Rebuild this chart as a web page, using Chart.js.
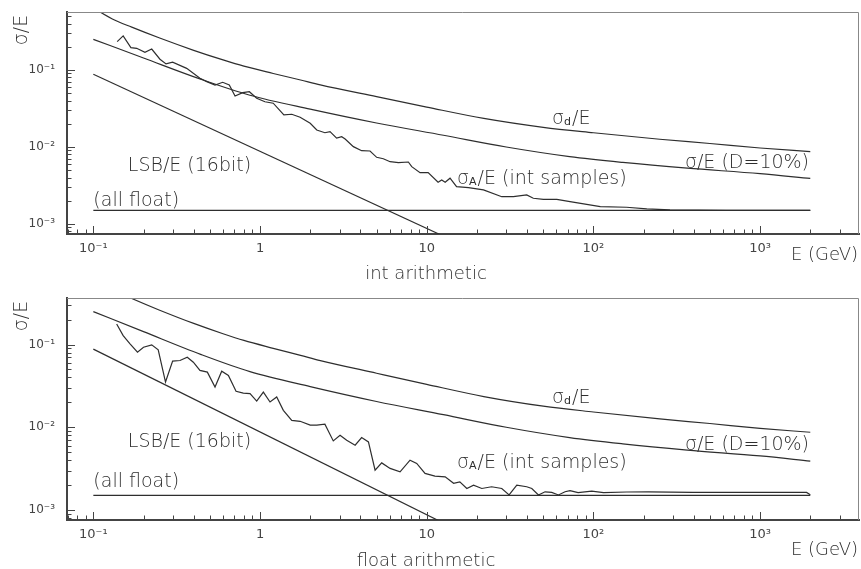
<!DOCTYPE html>
<html>
<head>
<meta charset="utf-8">
<script src="https://cdn.jsdelivr.net/npm/chart.js@4.4.1/dist/chart.umd.min.js"></script>
<style>
  body { margin: 0; background: #fff; }
  canvas { display: block; }
</style>
</head>
<body>
<canvas id="intChart" width="861" height="284"></canvas>
<canvas id="floatChart" width="861" height="285"></canvas>
<script>
// energies in GeV, resolutions as sigma/E
const sigmaDE = [0.1, 0.13, 0.17, 0.25, 0.4, 0.6, 0.8, 1.2, 1.75, 2.3, 5, 10, 22, 50, 100, 250, 500, 1000, 2000];
const sigmaD = [0.64, 0.46, 0.36, 0.26, 0.18, 0.135, 0.112, 0.09, 0.074, 0.064, 0.045, 0.033, 0.0235, 0.018, 0.0153, 0.0126, 0.0111, 0.0097, 0.0087];

const dTenE = [0.1, 0.2, 0.44, 0.87, 2, 5, 12.6, 30, 72, 150, 366, 1000, 2000];
const dTen = [0.25, 0.143, 0.076, 0.047, 0.031, 0.0205, 0.0142, 0.01, 0.0075, 0.0063, 0.0053, 0.0045, 0.0039];

const lsbE = [0.1, 12];
const lsb = [0.088, 0.00073];

const allFloatE = [0.1, 2000];
const allFloat = [0.0015, 0.0015];

// sigma_A/E, int arithmetic
const intSamplesE = [0.139, 0.151, 0.168, 0.182, 0.204, 0.224, 0.251, 0.273, 0.299, 0.363, 0.436, 0.479, 0.537, 0.597, 0.654, 0.708, 0.787, 0.863, 0.955, 1.07, 1.2, 1.39, 1.55, 1.74, 2.0, 2.19, 2.45, 2.63, 2.88, 3.09, 3.24, 3.63, 4.07, 4.57, 5.01, 5.49, 6.03, 6.76, 7.76, 8.13, 9.12, 10.2, 11.7, 12.3, 12.9, 13.8, 15.1, 17.8, 21.9, 28.2, 33.1, 39.8, 43.6, 50.1, 60.3, 72.4, 110, 158, 209, 288, 631, 2000];
const intSamples = [0.233, 0.277, 0.195, 0.191, 0.170, 0.187, 0.138, 0.120, 0.126, 0.105, 0.078, 0.0705, 0.0638, 0.0692, 0.0638, 0.0459, 0.0507, 0.0522, 0.0429, 0.0387, 0.037, 0.0261, 0.0266, 0.0243, 0.0203, 0.0166, 0.0153, 0.0158, 0.013, 0.0136, 0.0127, 0.0101, 0.00895, 0.00887, 0.00734, 0.00704, 0.00644, 0.00625, 0.00638, 0.00555, 0.00464, 0.00464, 0.00348, 0.00373, 0.00348, 0.00393, 0.00305, 0.00296, 0.00277, 0.00226, 0.00226, 0.00238, 0.00216, 0.00209, 0.00209, 0.00195, 0.00168, 0.00165, 0.00157, 0.00152, 0.0015, 0.0015];

// sigma_A/E, float arithmetic
const floatSamplesE = [0.138, 0.151, 0.166, 0.184, 0.2, 0.224, 0.245, 0.271, 0.299, 0.331, 0.366, 0.398, 0.436, 0.483, 0.537, 0.589, 0.646, 0.718, 0.794, 0.871, 0.955, 1.047, 1.148, 1.259, 1.38, 1.55, 1.74, 2.0, 2.19, 2.45, 2.75, 3.02, 3.31, 3.72, 4.07, 4.47, 4.9, 5.37, 6.03, 6.92, 7.94, 8.71, 9.77, 11.2, 12.9, 14.5, 15.8, 17.4, 19.1, 21.4, 24.5, 28.2, 31.2, 34.7, 39.8, 42.7, 46.8, 51.3, 56.2, 61.7, 67.6, 72.4, 80.9, 97.7, 115, 158, 214, 396, 1900, 2000];
const floatSamples = [0.177, 0.128, 0.102, 0.0807, 0.0928, 0.0991, 0.0863, 0.0352, 0.063, 0.0641, 0.0703, 0.0612, 0.0486, 0.0464, 0.0306, 0.0476, 0.0423, 0.0272, 0.0259, 0.0255, 0.0207, 0.0266, 0.0202, 0.0232, 0.016, 0.0121, 0.0118, 0.0106, 0.0106, 0.0109, 0.00684, 0.00802, 0.00697, 0.00607, 0.00751, 0.00665, 0.00303, 0.00371, 0.00318, 0.00289, 0.004, 0.00365, 0.00277, 0.00257, 0.00252, 0.0021, 0.00219, 0.00182, 0.002, 0.00182, 0.00191, 0.00182, 0.00152, 0.002, 0.00191, 0.00182, 0.00152, 0.00166, 0.00163, 0.00152, 0.00166, 0.00171, 0.00162, 0.00169, 0.00162, 0.00165, 0.00166, 0.00163, 0.00163, 0.00153];

const xTicks = [0.1, 1, 10, 100, 1000];
const yTicks = [0.001, 0.01, 0.1];

const FONT = '"DejaVu Sans", sans-serif';
const INK = '#2e2e2e';

const sup = { '-3': '⁻³', '-2': '⁻²', '-1': '⁻¹', '2': '²', '3': '³' };
function powLabel(v) {
    const p = Math.round(Math.log10(v));
    if (p === 0) return '1';
    if (p === 1) return '10';
    return '10' + sup[p];
}

function curve(xs, ys, smooth) {
    return {
        data: xs.map((x, i) => ({ x: x, y: ys[i] })),
        borderColor: INK,
        borderWidth: 1.2,
        pointRadius: 0,
        tension: 0,
        cubicInterpolationMode: smooth ? 'monotone' : 'default',
        capBezierPoints: false
    };
}

function drawParts(ctx, parts, x, y) {
    for (const [t, sub] of parts) {
        ctx.font = sub ? `11px ${FONT}` : `200 19px ${FONT}`;
        ctx.fillText(t, x, sub ? y + 1 : y);
        x += ctx.measureText(t).width + (sub ? 1 : 0);
    }
}

// frame, inward ticks and text
const decor = {
    id: 'decor',
    afterDraw(chart, args, opts) {
        const { ctx, chartArea: a, scales: { x, y } } = chart;
        ctx.save();
        ctx.strokeStyle = '#888';
        ctx.lineWidth = 1;
        ctx.beginPath();
        ctx.moveTo(a.left, a.top + 0.5);
        ctx.lineTo(a.right - 0.5, a.top + 0.5);
        ctx.lineTo(a.right - 0.5, a.bottom);
        ctx.stroke();

        ctx.strokeStyle = '#444';
        ctx.beginPath();
        for (let d = -4; d <= 3; d++) {
            for (let k = 1; k <= 9; k++) {
                const v = k * Math.pow(10, d);
                const len = k === 1 ? 8 : 4.5;
                if (v >= x.min && v <= x.max) {
                    const px = Math.round(x.getPixelForValue(v)) + 0.5;
                    ctx.moveTo(px, a.bottom);
                    ctx.lineTo(px, a.bottom - len);
                }
                if (v >= y.min && v <= y.max) {
                    const py = Math.round(y.getPixelForValue(v)) + 0.5;
                    ctx.moveTo(a.left, py);
                    ctx.lineTo(a.left + len, py);
                }
            }
        }
        ctx.stroke();

        ctx.fillStyle = INK;
        ctx.textBaseline = 'alphabetic';
        ctx.textAlign = 'left';
        for (const item of opts.labels) {
            drawParts(ctx, item.parts, x.getPixelForValue(item.e), y.getPixelForValue(item.v));
        }

        ctx.font = `200 18px ${FONT}`;
        ctx.textAlign = 'center';
        ctx.fillText(opts.xTitle, opts.xTitleX, opts.xTitleY);
        ctx.textAlign = 'right';
        ctx.fillText('E (GeV)', 858, opts.unitY);

        ctx.translate(22, opts.yTitleY);
        ctx.rotate(-Math.PI / 2);
        ctx.textAlign = 'center';
        ctx.textBaseline = 'middle';
        ctx.font = `200 19px ${FONT}`;
        ctx.fillText('σ/E', 0, 0);
        ctx.restore();
    }
};

function panel(id, samplesE, samples, yMin, yMax, padTop, xHeight, opts) {
    return new Chart(document.getElementById(id), {
        type: 'line',
        data: {
            datasets: [
                curve(sigmaDE, sigmaD, true),
                curve(dTenE, dTen, true),
                curve(lsbE, lsb, false),
                curve(allFloatE, allFloat, false),
                curve(samplesE, samples, false)
            ]
        },
        options: {
            responsive: false,
            animation: false,
            devicePixelRatio: 1,
            events: [],
            layout: { padding: { top: padTop, right: 2, left: 0, bottom: 0 } },
            plugins: {
                legend: { display: false },
                tooltip: { enabled: false },
                decor: opts
            },
            scales: {
                x: {
                    type: 'logarithmic',
                    min: 0.0695,
                    max: 3920,
                    afterBuildTicks: s => { s.ticks = xTicks.map(v => ({ value: v })); },
                    afterFit: s => {
                        s.height = xHeight;
                        s.paddingLeft = 0;
                        s.paddingRight = 0;
                    },
                    grid: { display: false, drawTicks: false },
                    border: { display: true, color: '#444', width: 2 },
                    ticks: {
                        callback: v => powLabel(v),
                        font: { family: FONT, size: 13 },
                        color: '#444',
                        padding: 7,
                        maxRotation: 0,
                        autoSkip: false
                    }
                },
                y: {
                    type: 'logarithmic',
                    min: yMin,
                    max: yMax,
                    afterBuildTicks: s => { s.ticks = yTicks.map(v => ({ value: v })); },
                    afterFit: s => {
                        s.width = 67;
                        s.paddingTop = 0;
                        s.paddingBottom = 0;
                    },
                    grid: { display: false, drawTicks: false },
                    border: { display: true, color: '#444', width: 2 },
                    ticks: {
                        callback: v => powLabel(v),
                        font: { family: FONT, size: 12 },
                        color: '#444',
                        padding: 12,
                        autoSkip: false
                    }
                }
            }
        },
        plugins: [decor]
    });
}

function sigmaDLabel(e, v) { return { parts: [['σ'], ['d', true], ['/E']], e: e, v: v }; }
function dTenLabel(e, v) { return { parts: [['σ/E (D=10%)']], e: e, v: v }; }
function sigmaALabel(e, v) { return { parts: [['σ'], ['A', true], ['/E (int samples)']], e: e, v: v }; }
function lsbLabel(e, v) { return { parts: [['LSB/E (16bit)']], e: e, v: v }; }
function floatLabel(e, v) { return { parts: [['(all float)']], e: e, v: v }; }

panel('intChart', intSamplesE, intSamples, 7.41e-4, 0.566, 12, 50, {
    labels: [
        sigmaDLabel(56.5, 0.0199),
        dTenLabel(354, 0.00533),
        sigmaALabel(15.2, 0.0033),
        lsbLabel(0.161, 0.00488),
        floatLabel(0.1, 0.00171)
    ],
    xTitle: 'int arithmetic', xTitleX: 426, xTitleY: 279,
    unitY: 260,
    yTitleY: 30
});

panel('floatChart', floatSamplesE, floatSamples, 7.57e-4, 0.365, 14, 49, {
    labels: [
        sigmaDLabel(56.5, 0.0196),
        dTenLabel(354, 0.00531),
        sigmaALabel(15.2, 0.00322),
        lsbLabel(0.161, 0.00577),
        floatLabel(0.1, 0.0019)
    ],
    xTitle: 'float arithmetic', xTitleX: 426, xTitleY: 282,
    unitY: 271,
    yTitleY: 32
});
</script>
</body>
</html>
